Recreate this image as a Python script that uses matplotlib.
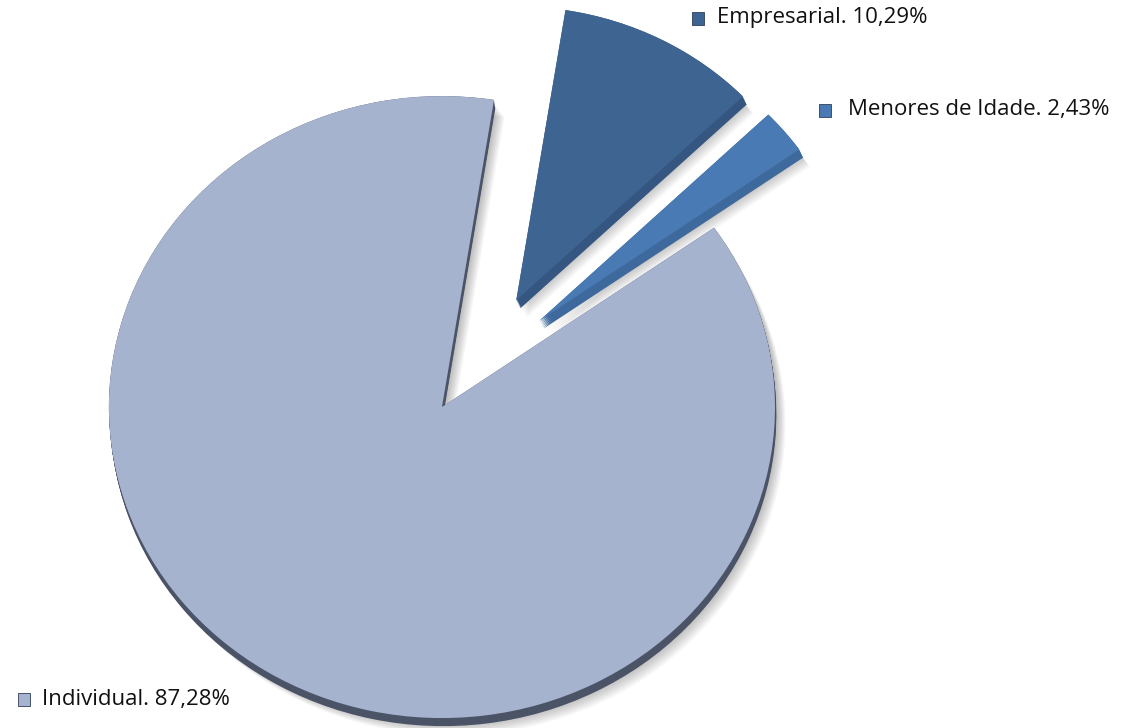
import numpy as np
import matplotlib.pyplot as plt
from matplotlib.patches import Rectangle

# data (clockwise from the first slice angle)
labels = ['Empresarial', 'Menores de Idade', 'Individual']
shares = [10.29, 2.43, 87.28]

explode = [0.405, 0.395, 0.0]
radii = [0.945, 0.955, 1.0]            # exploded slices look a bit smaller (perspective)
nudge = [(0.036, -0.016), (-0.012, 0.026), (0.0, 0.0)]
depth = [(0.012, -0.026), (0.012, -0.026), (0.004, -0.026)]
top_colors = ['#3E6491', '#4A7AB4', '#A6B3CF']
side_colors = ['#355680', '#3E699D', '#4B5367']
start = 81

W, H = 1128, 728
fig = plt.figure(figsize=(W / 100, H / 100), dpi=100)
ax = fig.add_axes([0, 0, 1, 1])


def draw(colors, shift=lambda i: (0, 0), **wp):
    # one pie call per slice, the other slices left transparent
    for i in range(len(shares)):
        cols = ['none'] * len(shares)
        cols[i] = colors[i]
        sx, sy = shift(i)
        c = (sx + nudge[i][0], sy + nudge[i][1])
        ax.pie(shares, colors=cols, radius=radii[i], center=c, explode=explode,
               startangle=start, counterclock=False,
               wedgeprops=dict(linewidth=0, **wp))


# soft drop shadow
for k in range(8):
    off = 0.01 + 0.005 * k
    draw(['#000000'] * 3, shift=lambda i, o=off: (o * 0.7, -o - 0.01), alpha=0.035)

# extruded side (stack of offset copies)
for t in np.linspace(0, 1, 8):
    draw(side_colors, shift=lambda i, t=t: (depth[i][0] * t, depth[i][1] * t))

# top face
draw(top_colors)

ax.set_aspect('auto')
ax.set_xlim(-1.327, 2.06)
ax.set_ylim(-1.032, 1.309)
ax.axis('off')

# data labels with small coloured squares
label_pos = [(717, 18), (848, 110), (42, 699)]
square_x = [692, 819, 18]
for name, val, col, (tx, ty), sx in zip(labels, shares, top_colors, label_pos, square_x):
    txt = name + '. ' + ('%.2f' % val).replace('.', ',') + '%'
    fig.text(tx / W, 1 - ty / H, txt, family='Open Sans', fontsize=16,
             color='#111111', ha='left', va='center')
    fig.add_artist(Rectangle((sx / W, 1 - (ty + 7) / H), 12 / W, 13 / H,
                             transform=fig.transFigure, facecolor=col,
                             edgecolor='#2E3E58', linewidth=0.6))

fig.savefig('out.png', dpi=100, facecolor='white')
